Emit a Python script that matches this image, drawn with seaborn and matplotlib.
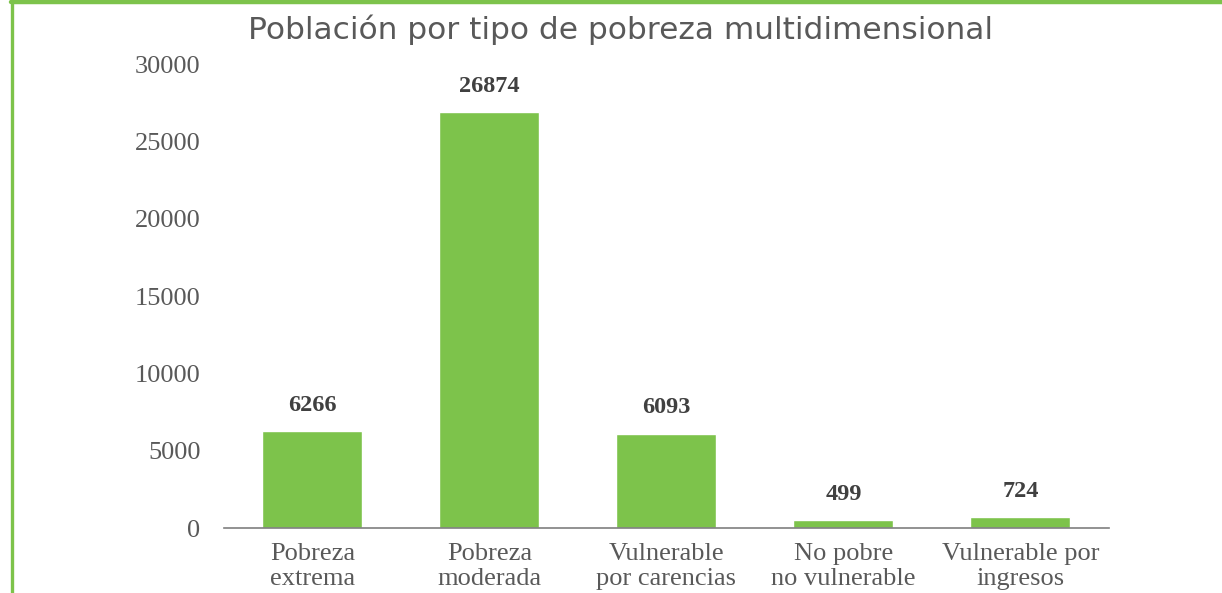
import matplotlib
matplotlib.use("Agg")
import matplotlib.pyplot as plt
import seaborn as sns
import pandas as pd
from matplotlib.lines import Line2D

categories = ["Pobreza\nextrema", "Pobreza\nmoderada", "Vulnerable\npor carencias",
              "No pobre\nno vulnerable", "Vulnerable por\ningresos"]
values = [6266, 26874, 6093, 499, 724]
yticks = [0, 5000, 10000, 15000, 20000, 25000, 30000]
title = "Población por tipo de pobreza multidimensional"

bar_color = "#7DC34B"
text_gray = "#595959"

sns.set_theme(style="white")
plt.rcParams["font.family"] = ["Liberation Serif", "DejaVu Serif"]

df = pd.DataFrame({"categoria": categories, "poblacion": values})

fig = plt.figure(figsize=(12.22, 5.93), dpi=100)
ax = fig.add_axes([0.1833, 0.1096, 0.7242, 0.7824])

sns.barplot(data=df, x="categoria", y="poblacion", color=bar_color,
            saturation=1, width=0.565, ax=ax)

ax.set_ylim(0, 30000)
ax.set_yticks(yticks)
ax.set_yticklabels([str(t) for t in yticks], fontsize=19, color=text_gray)
ax.tick_params(axis="y", length=0, pad=17)
ax.tick_params(axis="x", length=0, pad=11, labelsize=19, labelcolor=text_gray)
for lab in ax.get_xticklabels():
    lab.set_linespacing(1.17)
ax.set_xlabel("")
ax.set_ylabel("")

for s in ["top", "right", "left"]:
    ax.spines[s].set_visible(False)
ax.spines["bottom"].set_color("#7F7F7F")
ax.spines["bottom"].set_linewidth(1.2)

for container in ax.containers:
    ax.bar_label(container, labels=[str(v) for v in values], padding=11,
                 fontsize=17.5, fontweight="bold", color="#404040")

fig.text(0.508, 0.949, title, ha="center", va="center", fontsize=22.5,
         color=text_gray, family=["DejaVu Sans"])

# green frame along the top and left edges
fig.add_artist(Line2D([0.009, 1.0], [0.9966, 0.9966], transform=fig.transFigure,
                      color=bar_color, linewidth=3.2))
fig.add_artist(Line2D([0.0095, 0.0095], [0.0, 0.998], transform=fig.transFigure,
                      color=bar_color, linewidth=2.4))

fig.savefig("out.png", dpi=100, facecolor="white")
